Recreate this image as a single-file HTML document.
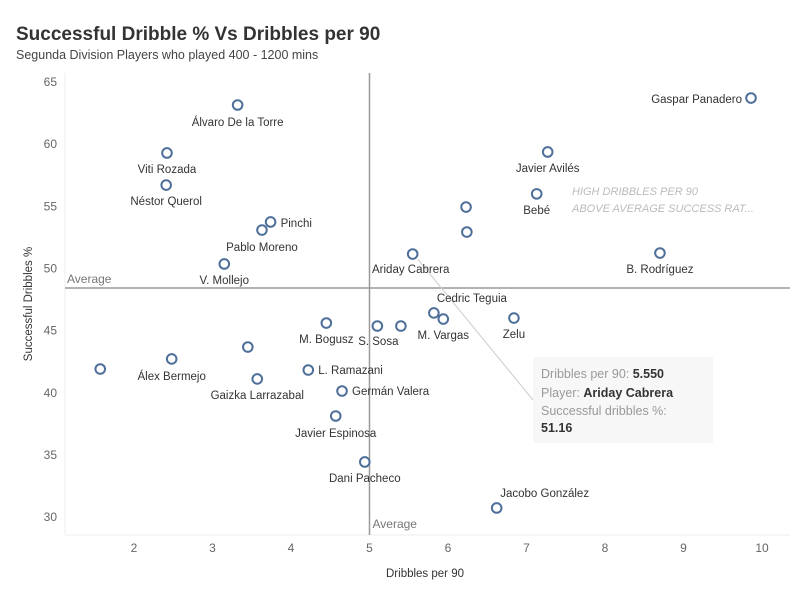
<!DOCTYPE html>
<html><head><meta charset="utf-8"><style>
body{margin:0;background:#fff;font-family:"Liberation Sans",sans-serif;}
svg{display:block}
</style></head><body>
<svg id="c" width="800" height="600" xmlns="http://www.w3.org/2000/svg">
<text x="16" y="40" font-size="19" font-weight="bold" fill="#333">Successful Dribble % Vs Dribbles per 90</text>
<text x="16" y="59" font-size="12.5" fill="#444">Segunda Division Players who played 400 - 1200 mins</text>
<g id="axes"></g>
<g id="marks"></g>
</svg>
<script>
const names=["Gaspar Panadero","Javier Avilés","Bebé","","","B. Rodríguez","Ariday Cabrera","Álvaro De la Torre","Viti Rozada","Néstor Querol","Pinchi","Pablo Moreno","V. Mollejo","Cedric Teguia","M. Vargas","Zelu","M. Bogusz","S. Sosa","","","","Álex Bermejo","Gaizka Larrazabal","L. Ramazani","Germán Valera","Javier Espinosa","Dani Pacheco","Jacobo González"];
const dribbles=[9.86,7.27,7.13,6.23,6.24,8.70,5.55,3.32,2.42,2.41,3.74,3.63,3.15,5.82,5.94,6.84,4.45,5.10,5.40,3.45,1.57,2.48,3.57,4.22,4.65,4.57,4.94,6.62];
const success=[63.71,59.37,56.0,54.94,52.93,51.24,51.16,63.15,59.29,56.71,53.74,53.09,50.36,46.42,45.93,46.01,45.61,45.37,45.37,43.68,41.91,42.72,41.11,41.83,40.14,38.13,34.43,30.73];
const labelDx=[-9,0,0,0,0,0,-2,0,0,0,10,0,0,38,0,0,0,1,0,0,0,0,0,10,10,0,0,48];
const labelDy=[5,20,20,0,0,20,19,21,20,20,5,21,20,-11,20,20,20,19,0,0,0,21,20,4,4,21,20,-11];
const labelAnchor=["end","middle","middle","middle","middle","middle","middle","middle","middle","middle","start","middle","middle","middle","middle","middle","middle","middle","middle","middle","middle","middle","middle","start","start","middle","middle","middle"];
const xTicks=[2,3,4,5,6,7,8,9,10];
const yTicks=[30,35,40,45,50,55,60,65];
const avgX=5.0, avgY=48.43;
const NS="http://www.w3.org/2000/svg";
const sx=v=>55.5+(v-1)*78.5;
const sy=v=>82+(65-v)*12.43;
function mk(tag,attrs,parent,txt){const e=document.createElementNS(NS,tag);for(const k in attrs)e.setAttribute(k,attrs[k]);if(txt!==undefined)e.textContent=txt;parent.appendChild(e);return e;}
const ax=document.getElementById('axes'), mg=document.getElementById('marks');
const L=65,R=790,T=73,B=535;
let g=mk('line',{x1:L,y1:T,x2:L,y2:B,stroke:'#eee'},ax);


g=mk('line',{x1:L,y1:B,x2:R,y2:B,stroke:'#eee'},ax);


xTicks.forEach(t=>{const e=mk('text',{x:sx(t),y:552,'font-size':12,fill:'#666','text-anchor':'middle'},ax,t);

});
yTicks.forEach(t=>{const e=mk('text',{x:57,y:sy(t)+4,'font-size':12,fill:'#666','text-anchor':'end'},ax,t);

});
g=mk('text',{x:425,y:577,'font-size':11.5,fill:'#333','text-anchor':'middle'},ax,'Dribbles per 90');


g=mk('text',{x:32,y:304,'font-size':11.5,fill:'#333','text-anchor':'middle',transform:'rotate(-90 32 304)'},ax,'Successful Dribbles %');


g=mk('line',{x1:sx(avgX),y1:T,x2:sx(avgX),y2:B,stroke:'#999','stroke-width':1.5},ax);


g=mk('line',{x1:L,y1:sy(avgY),x2:R,y2:sy(avgY),stroke:'#999','stroke-width':1.5},ax);


g=mk('text',{x:67,y:sy(avgY)-5,'font-size':12,fill:'#777'},ax,'Average');


g=mk('text',{x:sx(avgX)+3,y:528,'font-size':12,fill:'#777'},ax,'Average');


g=mk('text',{x:572,y:195,'font-size':11,fill:'#bbb','font-style':'italic'},ax,'HIGH DRIBBLES PER 90');


g=mk('text',{x:572,y:212,'font-size':11,fill:'#bbb','font-style':'italic'},ax,'ABOVE AVERAGE SUCCESS RAT...');


g=mk('line',{x1:sx(dribbles[6])+5,y1:sy(success[6])+5,x2:533,y2:400,stroke:'#ccc'},ax);


dribbles.forEach((d,i)=>{
 const c=mk('circle',{cx:sx(d),cy:sy(success[i]),r:4.8,fill:'#fff','fill-opacity':0.3,stroke:'#4e6f99','stroke-width':2},mg);
 
 
 if(names[i]){const t=mk('text',{x:sx(d)+labelDx[i],y:sy(success[i])+labelDy[i],'font-size':11.5,fill:'#333','text-anchor':labelAnchor[i]},mg,names[i]);
 
 }
});
const tg=mk('g',{},mg);


mk('rect',{x:533,y:357,width:180,height:86,fill:'#f7f7f7'},tg);
const lines=[['Dribbles per 90: ','5.550',378],['Player: ','Ariday Cabrera',397]];
lines.forEach(l=>{const t=mk('text',{x:541,y:l[2],'font-size':12.5,fill:'#999'},tg);mk('tspan',{},t,l[0]);mk('tspan',{fill:'#333','font-weight':'bold'},t,l[1]);});
mk('text',{x:541,y:415,'font-size':12.5,fill:'#999'},tg,'Successful dribbles %:');
mk('text',{x:541,y:432,'font-size':12.5,fill:'#333','font-weight':'bold'},tg,'51.16');
</script>
</body></html>
